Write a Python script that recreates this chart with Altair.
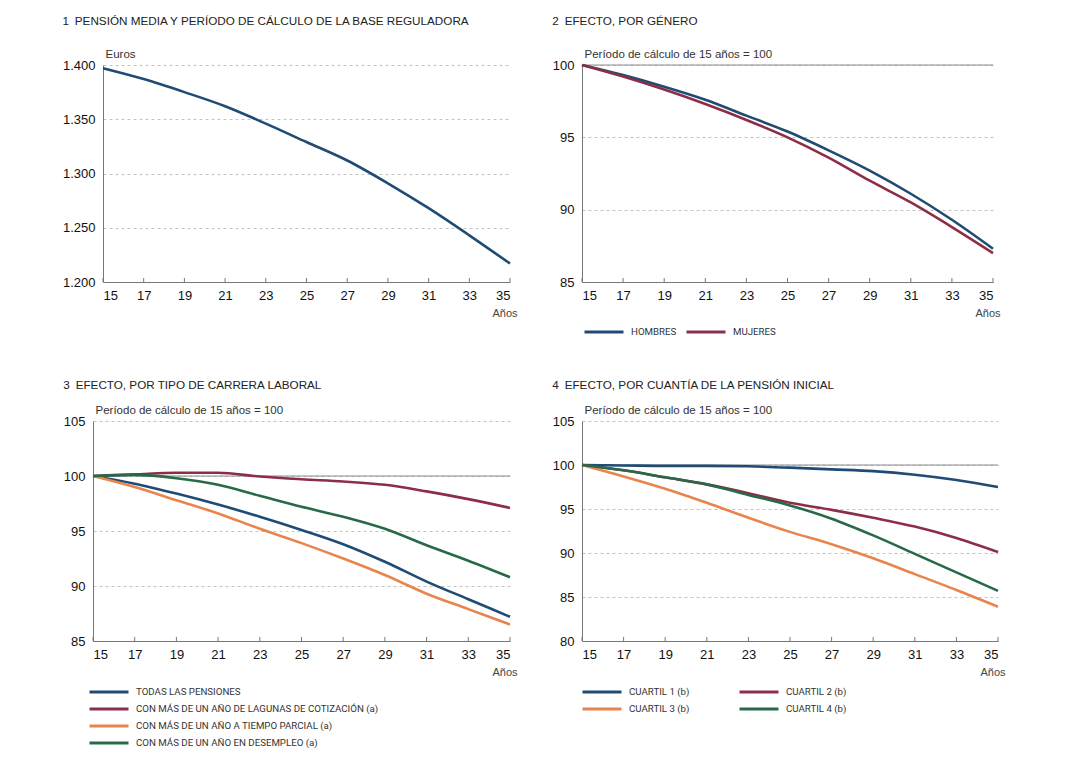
import altair as alt
import pandas as pd

years = [15, 17, 19, 21, 23, 25, 27, 29, 31, 33, 35]

# Panel 1: pensión media (euros)
pension_media = [1397, 1387, 1375, 1362, 1346, 1329, 1312, 1291, 1268, 1243, 1217]

# Panel 2: por género
hombres = [100, 99.3, 98.5, 97.6, 96.5, 95.4, 94.1, 92.7, 91.1, 89.3, 87.3]
mujeres = [100, 99.2, 98.3, 97.3, 96.2, 95.0, 93.6, 92.0, 90.5, 88.8, 87.0]

# Panel 3: por tipo de carrera laboral
todas = [100, 99.3, 98.4, 97.4, 96.3, 95.1, 93.8, 92.2, 90.4, 88.8, 87.2]
lagunas = [100, 100.15, 100.3, 100.3, 99.95, 99.7, 99.5, 99.2, 98.6, 97.9, 97.1]
parcial = [100, 99.0, 97.8, 96.6, 95.2, 93.9, 92.5, 91.0, 89.3, 87.9, 86.5]
desempleo = [100, 100.1, 99.8, 99.2, 98.2, 97.2, 96.3, 95.2, 93.7, 92.3, 90.8]

# Panel 4: por cuantía de la pensión inicial
cuartil1 = [100, 99.95, 99.9, 99.9, 99.85, 99.7, 99.5, 99.3, 98.9, 98.3, 97.5]
cuartil2 = [100, 99.4, 98.6, 97.8, 96.8, 95.7, 94.9, 94.0, 93.0, 91.7, 90.1]
cuartil3 = [100, 98.7, 97.3, 95.7, 94.0, 92.4, 91.0, 89.4, 87.6, 85.8, 83.9]
cuartil4 = [100, 99.4, 98.6, 97.8, 96.6, 95.4, 93.9, 92.0, 89.9, 87.8, 85.7]

names2 = ["HOMBRES", "MUJERES"]
names3 = ["TODAS LAS PENSIONES",
          "CON MÁS DE UN AÑO DE LAGUNAS DE COTIZACIÓN (a)",
          "CON MÁS DE UN AÑO A TIEMPO PARCIAL (a)",
          "CON MÁS DE UN AÑO EN DESEMPLEO (a)"]
names4 = ["CUARTIL 1 (b)", "CUARTIL 2 (b)", "CUARTIL 3 (b)", "CUARTIL 4 (b)"]

titles = ["1\u2002PENSIÓN MEDIA Y PERÍODO DE CÁLCULO DE LA BASE REGULADORA",
          "2\u2002EFECTO, POR GÉNERO",
          "3\u2002EFECTO, POR TIPO DE CARRERA LABORAL",
          "4\u2002EFECTO, POR CUANTÍA DE LA PENSIÓN INICIAL"]
sub_euros = "Euros"
sub_index = "Período de cálculo de 15 años = 100"

BLUE = "#1f4b74"
RED = "#8c2e48"
ORANGE = "#e8844c"
GREEN = "#286a48"

FONT = "Liberation Sans"
LFONT = "Liberation Sans Narrow, Roboto, Liberation Sans"


def long_df(names, series):
    rows = []
    for n, s in zip(names, series):
        for y, v in zip(years, s):
            rows.append({"year": y, "value": v, "serie": n})
    return pd.DataFrame(rows)


def panel(df, names, colors, ydomain, yvals, w, h, title, ytitle,
          legend=None, ref=True, label_expr=None, toff=20, shift=0):
    xs = alt.Scale(domain=[15, 35], nice=False, range=[shift, w])
    ys = alt.Scale(domain=ydomain, nice=False, zero=False)
    xaxis = alt.Axis(values=years, title="Años", labelFontSize=13, labelFont=FONT,
                     labelColor="#111", labelPadding=7, ticks=False, grid=False,
                     domainColor="#777", titleFont=FONT, titleFontSize=11,
                     titleFontWeight="normal", titleColor="#444",
                     titleAlign="right", titleAnchor="end", titleX=w + 7,
                     titleY=34, titleBaseline="alphabetic")
    yargs = dict(values=yvals, title=ytitle, titleAngle=0, titleAlign="left",
                 titleX=2, titleY=-8, titleBaseline="alphabetic", titleFont=FONT,
                 titleFontSize=11.5, titleFontWeight="normal", titleColor="#333",
                 labelFontSize=13, labelFont=FONT, labelColor="#111", labelPadding=8,
                 ticks=False, domainColor="#777", grid=True, gridDash=[3, 3],
                 gridColor="#c4c4c4", minExtent=10)
    if shift:
        yargs["offset"] = -shift
    if label_expr:
        yargs["labelExpr"] = label_expr
    yaxis = alt.Axis(**yargs)
    X = alt.X("year:Q", scale=xs, axis=xaxis)
    Y = alt.Y("value:Q", scale=ys, axis=yaxis)

    layers = []
    if ref:
        layers.append(alt.Chart(pd.DataFrame({"value": [100]})).mark_rule(
            color="#8a8a8a", strokeWidth=1).encode(y=Y))
    if len(names) > 1:
        color = alt.Color("serie:N", scale=alt.Scale(domain=names, range=colors),
                          legend=legend, sort=names)
        line = alt.Chart(df).mark_line(strokeWidth=2.6, interpolate="monotone").encode(
            x=X, y=Y, color=color, detail="serie:N")
    else:
        line = alt.Chart(df).mark_line(strokeWidth=2.6, interpolate="monotone",
                                       color=colors[0]).encode(x=X, y=Y)
    layers.append(line)
    ticks = alt.Chart(pd.DataFrame({"year": years})).mark_rule(
        color="#777", strokeWidth=1).encode(x=X, y=alt.value(h), y2=alt.value(h - 4))
    layers.append(ticks)
    return alt.layer(*layers).properties(
        width=w, height=h,
        title=alt.TitleParams(title, anchor="start", font=FONT, fontSize=11.7,
                              fontWeight="normal", color="#222", offset=toff))


def leg(x, y, direction, columns, colpad, rowpad):
    # symbol is a 39px stroke centred in a 13px layout box
    return alt.Legend(title=None, orient="none", legendX=x + 13, legendY=y,
                      direction=direction, columns=columns, columnPadding=colpad,
                      rowPadding=rowpad, symbolType="M-3,0H3", symbolStrokeWidth=3,
                      symbolSize=169, symbolFillColor="transparent",
                      labelFont=LFONT, labelFontSize=9.7,
                      labelColor="#333", labelLimit=500, labelOffset=19)


df1 = long_df(["Pensión media"], [pension_media])
df2 = long_df(names2, [hombres, mujeres])
df3 = long_df(names3, [todas, lagunas, parcial, desempleo])
df4 = long_df(names4, [cuartil1, cuartil2, cuartil3, cuartil4])

p1 = panel(df1, ["Pensión media"], [BLUE], [1200, 1400],
           [1200, 1250, 1300, 1350, 1400], 417, 217, titles[0], sub_euros,
           ref=False, label_expr="replace(format(datum.value, ',d'), ',', '.')",
           shift=10)
p2 = panel(df2, names2, [BLUE, RED], [85, 100], [85, 90, 95, 100], 411, 217,
           titles[1], sub_index, legend=leg(1, 217 + 42, "horizontal", 2, 3, 2))
p3 = panel(df3, names3, [BLUE, RED, ORANGE, GREEN], [85, 105],
           [85, 90, 95, 100, 105], 417, 220, titles[2], sub_index,
           legend=leg(-5, 220 + 43, "vertical", 1, 10, 3), toff=12)
p4 = panel(df4, names4, [BLUE, RED, ORANGE, GREEN], [80, 105],
           [80, 85, 90, 95, 100, 105], 416, 220, titles[3], sub_index,
           legend=leg(-1, 220 + 43, "horizontal", 2, 43, 3), toff=12)

chart = alt.concat(p1, p2, p3, p4, columns=2, spacing={"row": 42, "column": 35}).properties(
    align="none",
    padding={"left": 54, "top": 8, "right": 5, "bottom": 5},
    background="white").resolve_scale(color="independent").resolve_legend(
    color="independent").configure_view(stroke=None)

chart.save("out.html", embed_options={"renderer": "svg", "actions": False})
